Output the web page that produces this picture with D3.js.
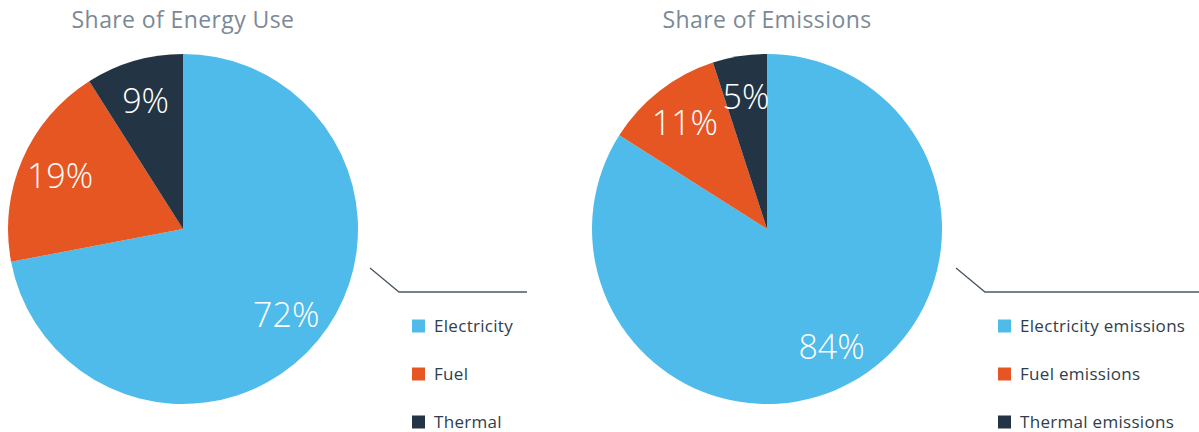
<!DOCTYPE html>
<html><head><meta charset="utf-8">
<script src="https://cdn.jsdelivr.net/npm/d3@7"></script>
<style>
html,body{margin:0;padding:0;background:#fff;}
svg{display:block;font-family:"Open Sans","Noto Sans",sans-serif;}
</style></head>
<body><svg id="c" width="1199" height="432"></svg>
<script>
const titles = ["Share of Energy Use", "Share of Emissions"];
const energyCategories = ["Electricity", "Fuel", "Thermal"];
const energyValues = [72, 19, 9];
const emissionCategories = ["Electricity emissions", "Fuel emissions", "Thermal emissions"];
const emissionValues = [84, 11, 5];
const colors = ["#4FBBEA", "#E55623", "#233544"];

const svg = d3.select("#c");
const R = 175;
const charts = [
  {title: titles[0], cats: energyCategories, vals: energyValues, cx: 183, cy: 229, lx: 370, legX: 412, lineEnd: 527},
  {title: titles[1], cats: emissionCategories, vals: emissionValues, cx: 767, cy: 229, lx: 956, legX: 998, lineEnd: 1199}
];
const pie = d3.pie().sort(null).value(d => d);
const arc = d3.arc().innerRadius(0).outerRadius(R);
const labelArc = d3.arc().innerRadius(134).outerRadius(134);
const color = d3.scaleOrdinal().domain([0,1,2]).range(colors);

charts.forEach(ch => {
  svg.append("text").attr("x", ch.cx).attr("y", 28).attr("text-anchor", "middle")
    .attr("fill", "#7B8996").attr("font-size", 23).attr("letter-spacing", 0.4).text(ch.title);
  const g = svg.append("g").attr("transform", `translate(${ch.cx},${ch.cy})`);
  const arcs = pie(ch.vals);
  g.selectAll("path").data(arcs).join("path")
    .attr("d", arc).attr("fill", (d, i) => color(i));
  g.selectAll("text").data(arcs).join("text")
    .attr("transform", d => `translate(${labelArc.centroid(d)})`)
    .attr("text-anchor", "middle").attr("dy", "0.36em")
    .attr("fill", "#fff").attr("font-size", 34).attr("font-weight", 300)
    .text(d => d.data + "%");
  // legend connector
  svg.append("path")
    .attr("d", `M${ch.lx},268 L${ch.lx + 29},292 L${ch.lineEnd},292`)
    .attr("fill", "none").attr("stroke", "#4A5864").attr("stroke-width", 1.3);
  const ly = d3.scalePoint().domain(ch.cats).range([326, 422]);
  const leg = svg.append("g");
  ch.cats.forEach((c, i) => {
    leg.append("rect").attr("x", ch.legX).attr("y", ly(c) - 6.5).attr("width", 13).attr("height", 13)
      .attr("fill", color(i));
    leg.append("text").attr("x", ch.legX + 22).attr("y", ly(c)).attr("dy", "0.35em")
      .attr("fill", "#2E3E4C").attr("font-size", 17).attr("letter-spacing", 0.3).text(c);
  });
});
</script></body></html>
